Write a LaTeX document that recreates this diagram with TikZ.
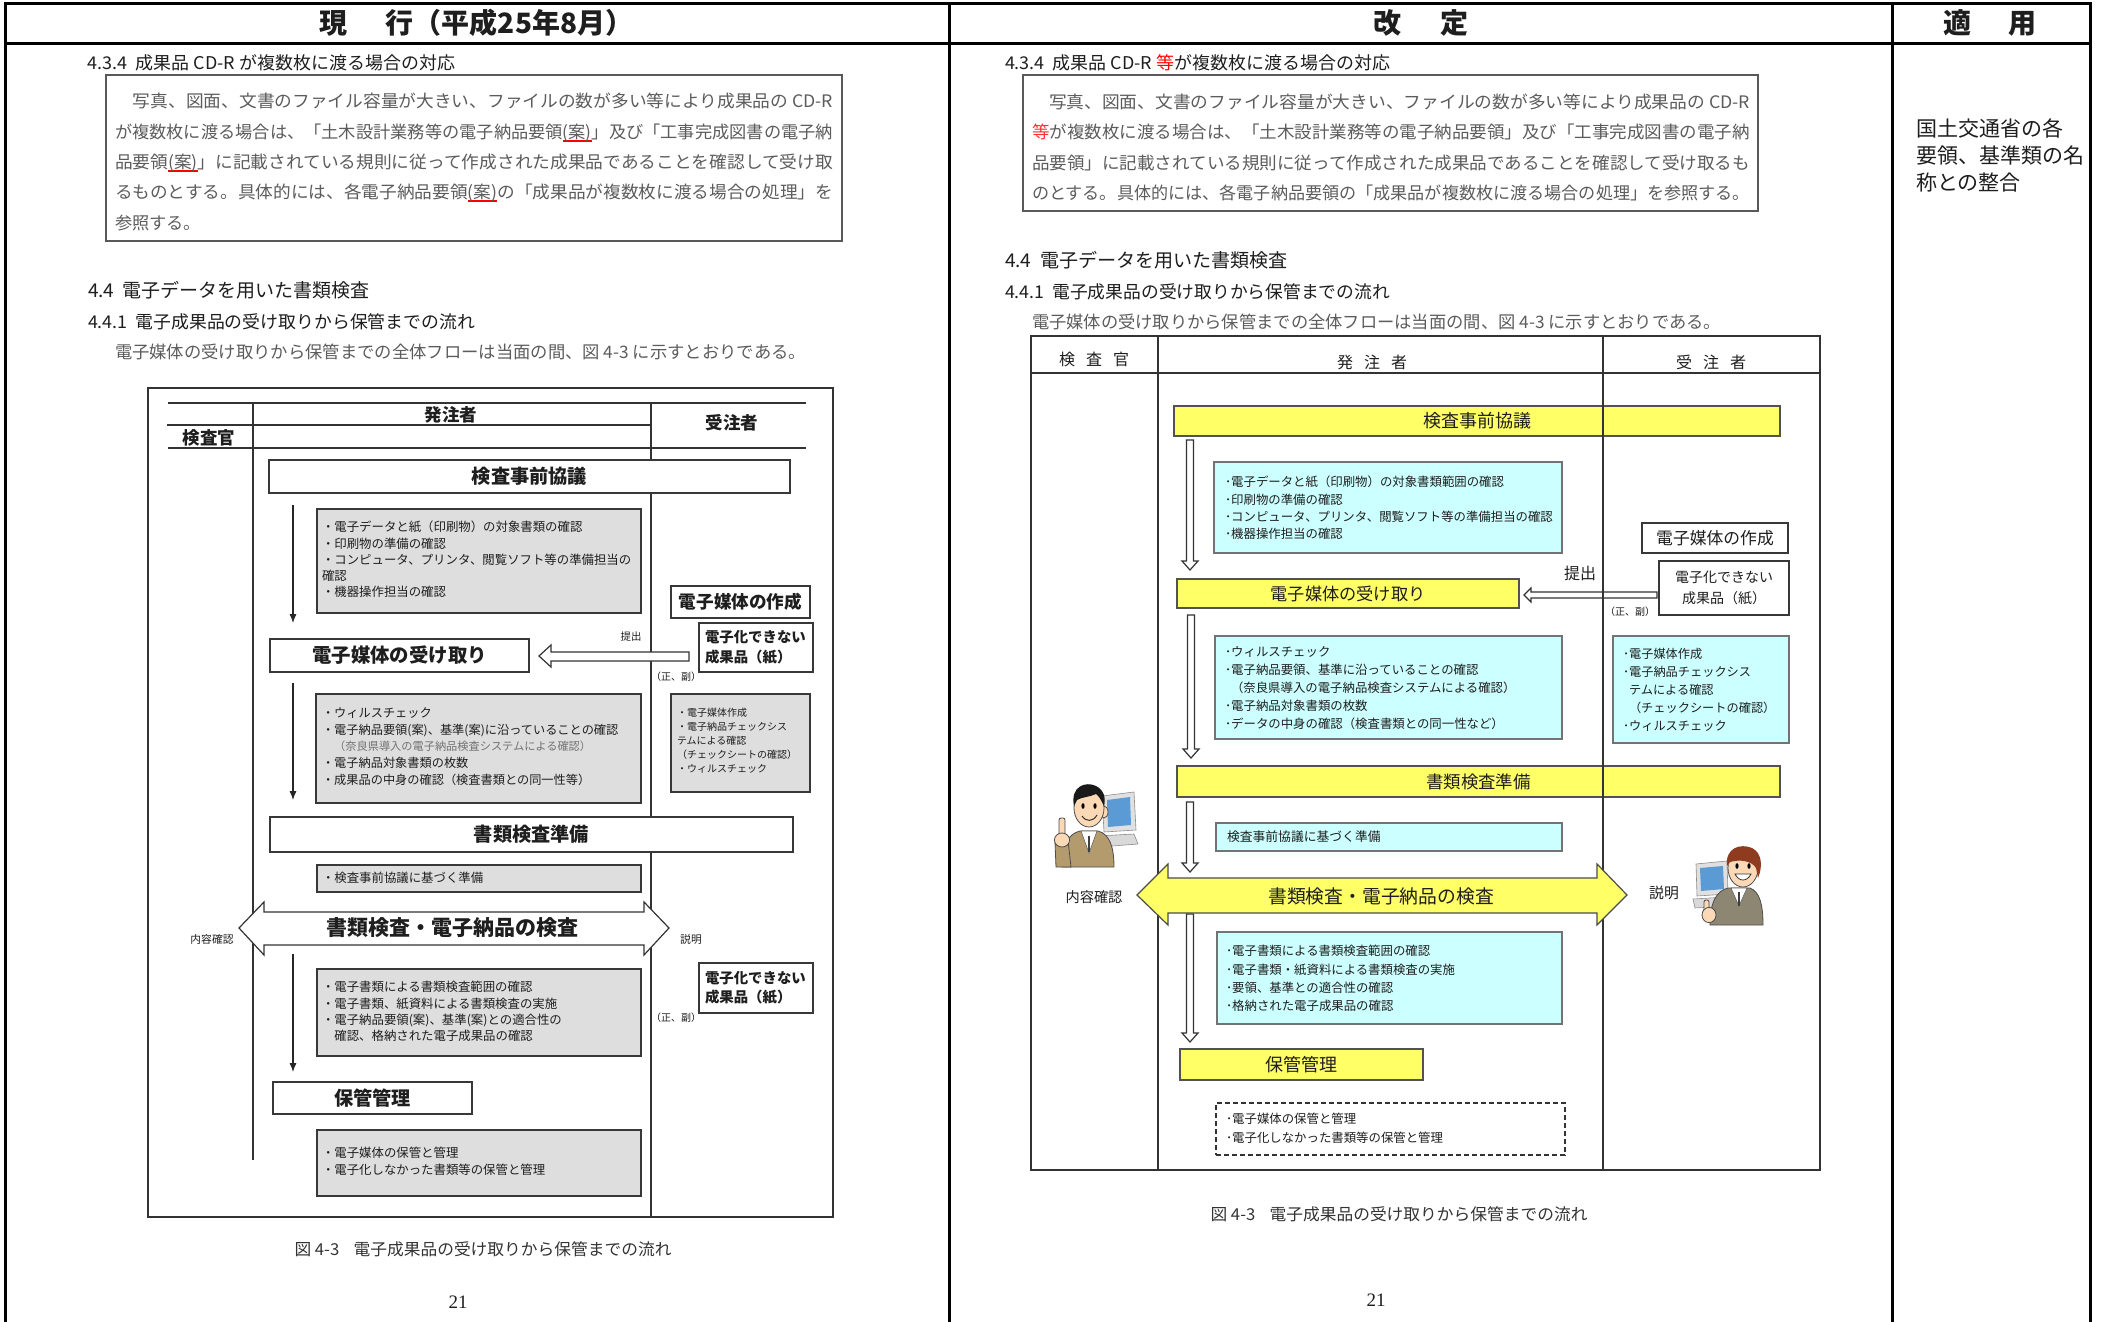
\documentclass[tikz,border=0pt]{standalone}
\usepackage{fontspec}
\usepackage{graphicx}
\setmainfont{Noto Sans CJK JP}
\newfontfamily\numfont{Liberation Serif}
\usetikzlibrary{arrows.meta,fit}

\definecolor{ink}{HTML}{1E1E1E}
\definecolor{paratext}{HTML}{5C5C5C}
\definecolor{fillyellow}{HTML}{FFFF66}
\definecolor{fillcyan}{HTML}{CCFFFF}
\definecolor{fillgray}{HTML}{DEDEDE}
\definecolor{skin}{HTML}{FBD8B6}
\definecolor{jacket}{HTML}{B39B6E}
\definecolor{suit}{HTML}{8C8672}
\definecolor{hairred}{HTML}{8E3B1F}
\definecolor{screen}{HTML}{5A9BD5}

% stretch a line horizontally to a given width (justified lines)
\newcommand\fitw[2]{\resizebox{#1}{\height}{#2}}
\newcommand\fsz[2]{\fontsize{#1}{#2}\selectfont}
% red underline used to flag revised wording
\newcommand\redmark[1]{\setbox0=\hbox{#1}\rlap{\textcolor{red}{\rule[-2.2pt]{\wd0}{1.3pt}}}\box0}

\tikzset{
  every node/.style={inner sep=0pt, outer sep=0pt, text=ink},
  tableline/.style={line width=1.5pt, black},
  lane/.style={draw=black!80, line width=0.6pt},
  parabox/.style={draw=black!65, line width=0.8pt},
  hd/.style={anchor=west, text=ink},
  para/.style={anchor=west, text=paratext, font=\fsz{8.6pt}{10pt}},
  wbox/.style={draw=black!78, line width=0.75pt, fill=white, inner sep=0pt},
  gbox/.style={draw=black!78, line width=0.75pt, fill=fillgray, inner sep=0pt},
  ybox/.style={draw=black!68, line width=0.75pt, fill=fillyellow, inner sep=0pt},
  cbox/.style={draw=black!55, line width=0.6pt, fill=fillcyan, inner sep=0pt},
  dbox/.style={draw=black!80, line width=0.6pt, dash pattern=on 2.5pt off 1.5pt, inner sep=0pt},
  blockarrow/.style={draw=black!80, line width=0.6pt, fill=white, line join=miter},
  flowarrow/.style={draw=black!85, line width=0.6pt, -{Latex[length=4.5pt,width=3.6pt]}},
  bullets/.style={anchor=west, align=left},
  person/.style={draw=black!70, line width=0.4pt},
}

% hollow downward block arrow: x, top y, tip y
\newcommand\hollowdown[3]{%
  \draw[blockarrow] (#1-3.5,#2) -- (#1+3.5,#2) -- (#1+3.5,#3-9) -- (#1+8,#3-9) -- (#1,#3)
    -- (#1-8,#3-9) -- (#1-3.5,#3-9) -- cycle;}

\begin{document}
\begin{tikzpicture}[x=0.5pt,y=-0.5pt]
\useasboundingbox (0,0) rectangle (2101,1322);
\fill[white] (0,0) rectangle (2101,1322);

% ===== comparison table frame =====
\draw[tableline] (5,1322) -- (5,4) -- (2090,4) -- (2090,1322);
\draw[tableline] (5,44) -- (2090,44);
\draw[tableline] (949,4) -- (949,1322);
\draw[tableline] (1892,4) -- (1892,1322);

\node[anchor=west, font=\fsz{14pt}{16pt}\bfseries] (hcur) at (319,23) {現\hspace{19.5pt}行（平成25年8月）};
\node[font=\fsz{14pt}{16pt}\bfseries] (hnew) at (1421,23) {改\hspace{20pt}定};
\node[font=\fsz{14pt}{16pt}\bfseries] (happ) at (1990,23) {適\hspace{18.5pt}用};

% ===== current text (left) =====
\node[hd, font=\fsz{8.8pt}{10pt}] (l434) at (88,63) {\fitw{183.5pt}{4.3.4\ \ 成果品 CD-R が複数枚に渡る場合の対応}};
\draw[parabox] (106,75) rectangle (842,241);
\node[para] (lp1) at (133,101) {\fitw{350pt}{写真、図面、文書のファイル容量が大きい、ファイルの数が多い等により成果品の CD-R}};
\node[para] (lp2) at (115,133) {\fitw{359pt}{が複数枚に渡る場合は、「土木設計業務等の電子納品要領\redmark{(案)}」及び「工事完成図書の電子納}};
\node[para] (lp3) at (115,163) {\fitw{359pt}{品要領\redmark{(案)}」に記載されている規則に従って作成された成果品であることを確認して受け取}};
\node[para] (lp4) at (115,193) {\fitw{359pt}{るものとする。具体的には、各電子納品要領\redmark{(案)}の「成果品が複数枚に渡る場合の処理」を}};
\node[para] (lp5) at (115,223) {参照する。};

\node[hd, font=\fsz{9.5pt}{11pt}] (l44) at (88,290) {\fitw{141pt}{4.4\ \ 電子データを用いた書類検査}};
\node[hd, font=\fsz{8.8pt}{10pt}] (l441) at (88,322) {\fitw{193.5pt}{4.4.1\ \ 電子成果品の受け取りから保管までの流れ}};
\node[para] (lintro) at (115,352) {\fitw{345.5pt}{電子媒体の受け取りから保管までの全体フローは当面の間、図 4-3 に示すとおりである。}};

% ----- current flow chart -----
\draw[lane] (148,388) rectangle (833,1217);
\draw[lane] (168,403) -- (806,403);
\draw[lane] (167,425) -- (651,425);
\draw[lane] (168,448) -- (806,448);
\draw[lane] (253,403) -- (253,1160);
\draw[lane] (651,403) -- (651,1217);
\node[font=\fsz{8.75pt}{10pt}\bfseries] (lh1) at (451,415) {発注者};
\node[font=\fsz{8.75pt}{10pt}\bfseries] (lh2) at (732,423) {受注者};
\node[font=\fsz{8.75pt}{10pt}\bfseries] (lh3) at (209,438) {検査官};

\node[wbox, fit={(269,460)(790,493)}] (lpre) {};
\node[font=\fsz{9.6pt}{11pt}\bfseries] (lpret) at (lpre.center) {検査事前協議};
\node[gbox, fit={(317,509)(641,613)}] (lg1) {};
\node[bullets, font=\fsz{6.2pt}{8.125pt}] (lg1t) at (322,559.5) {・電子データと紙（印刷物）の対象書類の確認\\・印刷物の準備の確認\\・コンピュータ、プリンタ、閲覧ソフト等の準備担当の\\確認\\・機器操作担当の確認};
\coordinate (la1s) at (293,505);
\coordinate (la1e) at (293,623);
\draw[flowarrow] (la1s) -- (la1e);

\node[wbox, fit={(671,586)(810,618)}] (lmake) {};
\node[font=\fsz{8.8pt}{10pt}\bfseries] (lmaket) at (lmake.center) {電子媒体の作成};
\node[wbox, fit={(699,623)(813,672)}] (lpap1) {};
\node[bullets, font=\fsz{7.2pt}{10pt}\bfseries] (lpap1t) at (705,647) {電子化できない\\成果品（紙）};

\node[wbox, fit={(270,639)(529,672)}] (lrecv) {};
\node[font=\fsz{9.7pt}{11pt}\bfseries] (lrecvt) at (lrecv.center) {電子媒体の受け取り};
\draw[blockarrow] (539,656) -- (551,645) -- (551,652) -- (689,652) -- (689,661) -- (551,661) -- (551,667) -- cycle;
\node[font=\fsz{5.2pt}{6pt}] (lsub) at (631,637) {提出};
\node[font=\fsz{5pt}{6pt}] (lcp1) at (676,677) {（正、副）};

\node[gbox, fit={(316,694)(641,803)}] (lg2) {};
\node[bullets, font=\fsz{6.1pt}{8.375pt}] (lg2t) at (322,746.5) {・ウィルスチェック\\・電子納品要領(案)、基準(案)に沿っていることの確認\\{\fsz{5.6pt}{8.375pt}\color{black!55}\hspace{6.1pt}（奈良県導入の電子納品検査システムによる確認）}\\・電子納品対象書類の枚数\\・成果品の中身の確認（検査書類との同一性等）};
\node[gbox, fit={(671,694)(810,792)}] (lg3) {};
\node[bullets, font=\fsz{5pt}{7pt}] (lg3t) at (677,741) {・電子媒体作成\\・電子納品チェックシス\\テムによる確認\\（チェックシートの確認）\\・ウィルスチェック};
\coordinate (la2s) at (293,683);
\coordinate (la2e) at (293,800);
\draw[flowarrow] (la2s) -- (la2e);

\node[wbox, fit={(270,817)(793,852)}] (lprep) {};
\node[font=\fsz{9.6pt}{11pt}\bfseries] (lprept) at (lprep.center) {書類検査準備};
\node[gbox, fit={(317,865)(641,892)}] (lg4) {};
\node[bullets, font=\fsz{6.2pt}{8pt}] (lg4t) at (322,878) {・検査事前協議に基づく準備};

\draw[blockarrow] (239,928) -- (264,902) -- (264,912) -- (644,912) -- (644,902) -- (669,928) -- (644,955) -- (644,945) -- (264,945) -- (264,955) -- cycle;
\node[font=\fsz{10.5pt}{12pt}\bfseries] (lchk) at (452,928) {書類検査・電子納品の検査};
\node[font=\fsz{5.4pt}{6pt}] (lconf) at (212,939) {内容確認};
\node[font=\fsz{5.4pt}{6pt}] (lexpl) at (691,939) {説明};

\coordinate (la3s) at (293,954);
\coordinate (la3e) at (293,1072);
\draw[flowarrow] (la3s) -- (la3e);
\node[gbox, fit={(317,969)(641,1056)}] (lg5) {};
\node[bullets, font=\fsz{6.2pt}{8.15pt}] (lg5t) at (322,1011.5) {・電子書類による書類検査範囲の確認\\・電子書類、紙資料による書類検査の実施\\・電子納品要領(案)、基準(案)との適合性の\\\hspace{6.2pt}確認、格納された電子成果品の確認};
\node[wbox, fit={(699,963)(813,1013)}] (lpap2) {};
\node[bullets, font=\fsz{7.2pt}{9.5pt}\bfseries] (lpap2t) at (705,987.5) {電子化できない\\成果品（紙）};
\node[font=\fsz{5pt}{6pt}] (lcp2) at (676,1018) {（正、副）};

\node[wbox, fit={(273,1082)(472,1114)}] (lkeep) {};
\node[font=\fsz{9.6pt}{11pt}\bfseries] (lkeept) at (lkeep.center) {保管管理};
\node[gbox, fit={(317,1130)(641,1196)}] (lg6) {};
\node[bullets, font=\fsz{6.2pt}{8.5pt}] (lg6t) at (322,1161.5) {・電子媒体の保管と管理\\・電子化しなかった書類等の保管と管理};

\node[font=\fsz{8.2pt}{10pt}, text=black!80] (lcap) at (483,1249) {\fitw{188.5pt}{図 4-3\hspace{7pt}電子成果品の受け取りから保管までの流れ}};
\node[font=\numfont\fsz{9.5pt}{10pt}] (lpage) at (458,1302) {21};

% ===== revised text (middle) =====
\node[hd, font=\fsz{8.8pt}{10pt}] (r434) at (1005,63) {\fitw{192.5pt}{4.3.4\ \ 成果品 CD-R \textcolor{red}{等}が複数枚に渡る場合の対応}};
\draw[parabox] (1023,75) rectangle (1758,211);
\node[para] (rp1) at (1049,102) {\fitw{350.5pt}{写真、図面、文書のファイル容量が大きい、ファイルの数が多い等により成果品の CD-R}};
\node[para] (rp2) at (1032,132) {\fitw{359pt}{\textcolor{red!80}{等}が複数枚に渡る場合は、「土木設計業務等の電子納品要領」及び「工事完成図書の電子納}};
\node[para] (rp3) at (1032,163) {\fitw{359pt}{品要領」に記載されている規則に従って作成された成果品であることを確認して受け取るも}};
\node[para] (rp4) at (1032,193) {\fitw{359pt}{のとする。具体的には、各電子納品要領の「成果品が複数枚に渡る場合の処理」を参照する。}};

\node[hd, font=\fsz{9.5pt}{11pt}] (r44) at (1005,260) {\fitw{141.5pt}{4.4\ \ 電子データを用いた書類検査}};
\node[hd, font=\fsz{8.8pt}{10pt}] (r441) at (1005,292) {\fitw{192.5pt}{4.4.1\ \ 電子成果品の受け取りから保管までの流れ}};
\node[para] (rintro) at (1032,322) {\fitw{344.5pt}{電子媒体の受け取りから保管までの全体フローは当面の間、図 4-3 に示すとおりである。}};

% ----- revised flow chart -----
\draw[lane] (1031,336) rectangle (1820,1170);
\draw[lane] (1031,373) -- (1820,373);
\node[font=\fsz{8pt}{10pt}] (rh1) at (1094,359) {検\hspace{5.5pt}査\hspace{5.5pt}官};
\node[font=\fsz{8pt}{10pt}] (rh2) at (1372,362) {発\hspace{5.5pt}注\hspace{5.5pt}者};
\node[font=\fsz{8pt}{10pt}] (rh3) at (1711,362) {受\hspace{5.5pt}注\hspace{5.5pt}者};

\hollowdown{1190}{440}{570}
\hollowdown{1191}{615}{758}
\hollowdown{1190}{802}{872}
\hollowdown{1190}{914}{1042}

\node[ybox, fit={(1174,406)(1780,436)}] (rpre) {};
\node[font=\fsz{9pt}{10pt}] (rpret) at (rpre.center) {検査事前協議};
\node[cbox, fit={(1214,462)(1562,553)}] (rc1) {};
\node[bullets, font=\fsz{6.2pt}{8.65pt}] (rc1t) at (1225,508) {･電子データと紙（印刷物）の対象書類範囲の確認\\･印刷物の準備の確認\\･コンピュータ、プリンタ、閲覧ソフト等の準備担当の確認\\･機器操作担当の確認};

\node[wbox, fit={(1642,523)(1788,553)}] (rmake) {};
\node[font=\fsz{8.4pt}{10pt}] (rmaket) at (rmake.center) {電子媒体の作成};
\node[wbox, fit={(1659,561)(1789,615)}] (rpap) {};
\node[align=center, font=\fsz{7pt}{10.5pt}] (rpapt) at (1724,587.5) {電子化できない\\成果品（紙）};

\draw[blockarrow] (1524,595) -- (1531,588) -- (1531,592) -- (1657,592) -- (1657,598) -- (1531,598) -- (1531,602) -- cycle;
\node[ybox, fit={(1177,579)(1519,608)}] (rrecv) {};
\node[font=\fsz{8.6pt}{10pt}] (rrecvt) at (rrecv.center) {電子媒体の受け取り};
\node[font=\fsz{8pt}{9pt}] (rsub) at (1580,573) {提出};
\node[font=\fsz{5pt}{6pt}] (rcp) at (1630,612) {（正、副）};

\node[cbox, fit={(1215,636)(1562,739)}] (rc2) {};
\node[bullets, font=\fsz{6.2pt}{9pt}] (rc2t) at (1225,688) {･ウィルスチェック\\･電子納品要領、基準に沿っていることの確認\\\hspace{3pt}（奈良県導入の電子納品検査システムによる確認）\\･電子納品対象書類の枚数\\･データの中身の確認（検査書類との同一性など）};
\node[cbox, fit={(1613,636)(1789,743)}] (rc3) {};
\node[bullets, font=\fsz{6.1pt}{9pt}] (rc3t) at (1623,690) {･電子媒体作成\\･電子納品チェックシス\\\hspace{3pt}テムによる確認\\\hspace{3pt}（チェックシートの確認）\\･ウィルスチェック};

\node[ybox, fit={(1177,766)(1780,797)}] (rprep) {};
\node[font=\fsz{8.7pt}{10pt}] (rprept) at (rprep.center) {書類検査準備};
\node[cbox, fit={(1216,823)(1562,851)}] (rc4) {};
\node[bullets, font=\fsz{6.4pt}{8pt}] (rc4t) at (1227,837) {検査事前協議に基づく準備};

\node[cbox, fit={(1217,932)(1562,1024)}] (rc5) {};
\node[bullets, font=\fsz{6.2pt}{9.15pt}] (rc5t) at (1226,978.5) {･電子書類による書類検査範囲の確認\\･電子書類・紙資料による書類検査の実施\\･要領、基準との適合性の確認\\･格納された電子成果品の確認};
\node[ybox, fit={(1180,1049)(1423,1080)}] (rkeep) {};
\node[font=\fsz{9pt}{10pt}] (rkeept) at (rkeep.center) {保管管理};
\node[dbox, fit={(1216,1103)(1565,1155)}] (rnote) {};
\node[bullets, font=\fsz{6.2pt}{9.5pt}] (rnotet) at (1226,1128.5) {･電子媒体の保管と管理\\･電子化しなかった書類等の保管と管理};

% lane dividers run over the wide bars
\draw[lane] (1158,336) -- (1158,1170);
\draw[lane] (1603,336) -- (1603,1170);

\draw[blockarrow, fill=fillyellow, draw=black!70] (1137,895) -- (1168,864) -- (1168,878) -- (1597,878) -- (1597,864) -- (1627,895) -- (1597,925) -- (1597,913) -- (1168,913) -- (1168,925) -- cycle;
\node[font=\fsz{9.4pt}{11pt}] (rchk) at (1381,896) {書類検査・電子納品の検査};
\node[font=\fsz{7.1pt}{8pt}] (rconf) at (1094,897) {内容確認};
\node[font=\fsz{7.4pt}{8pt}] (rexpl) at (1664,893) {説明};

% inspector at a computer, finger raised
\filldraw[draw=black!45, fill=black!12, line width=0.3pt] (1102,796) -- (1134,792) -- (1136,830) -- (1104,832) -- cycle;
\fill[screen] (1107,800) -- (1130,797) -- (1131,825) -- (1108,827) -- cycle;
\filldraw[draw=black!45, fill=black!15, line width=0.3pt] (1098,836) -- (1134,834) -- (1138,844) -- (1100,847) -- cycle;
\filldraw[person, fill=jacket] (1062,867) .. controls (1062,845) and (1068,834) .. (1080,831) -- (1098,831) .. controls (1110,834) and (1114,848) .. (1114,867) -- cycle;
\filldraw[person, fill=jacket] (1056,867) -- (1055,842) -- (1068,840) -- (1071,867) -- cycle;
\filldraw[draw=black!60, fill=white, line width=0.3pt] (1081,831) -- (1089,853) -- (1097,831) -- cycle;
\draw[black!75, line width=0.8pt] (1089,836) -- (1089,852);
\filldraw[person, fill=skin, rounded corners=1pt] (1059,818) rectangle (1065,836);
\filldraw[person, fill=skin] (1062,840) ellipse [x radius=3.8pt, y radius=3.5pt];
\filldraw[person, fill=skin] (1104,812) ellipse [x radius=2pt, y radius=3pt];
\filldraw[person, fill=skin] (1089,808) ellipse [x radius=7.5pt, y radius=9.5pt];
\fill[black!90] (1074,806) .. controls (1070,786) and (1086,781) .. (1096,786) .. controls (1104,790) and (1106,798) .. (1104,806) .. controls (1101,800) and (1099,796) .. (1096,794) .. controls (1090,797) and (1082,797) .. (1077,800) -- cycle;
\fill[black] (1083,806) ellipse [x radius=0.8pt, y radius=1.4pt];
\fill[black] (1095,806) ellipse [x radius=0.8pt, y radius=1.4pt];
\draw[black!80, line width=0.5pt] (1082,816) .. controls (1086,822) and (1093,822) .. (1097,815);

% contractor at a computer, thumb up
\filldraw[draw=black!45, fill=black!12, line width=0.3pt] (1696,864) -- (1727,861) -- (1728,894) -- (1697,896) -- cycle;
\fill[screen] (1700,868) -- (1723,866) -- (1724,889) -- (1701,891) -- cycle;
\filldraw[draw=black!45, fill=black!15, line width=0.3pt] (1693,899) -- (1727,897) -- (1730,906) -- (1695,908) -- cycle;
\filldraw[person, fill=suit] (1710,925) .. controls (1710,903) and (1716,891) .. (1728,888) -- (1750,888) .. controls (1760,892) and (1763,905) .. (1763,925) -- cycle;
\filldraw[draw=black!60, fill=white, line width=0.3pt] (1731,888) -- (1739,906) -- (1747,888) -- cycle;
\draw[black!75, line width=0.8pt] (1739,892) -- (1739,906);
\filldraw[person, fill=skin, rounded corners=1pt] (1704,900) rectangle (1709,912);
\filldraw[person, fill=skin] (1709,915) ellipse [x radius=3.5pt, y radius=3.8pt];
\filldraw[person, fill=skin] (1743,868) ellipse [x radius=7.5pt, y radius=9.5pt];
\fill[hairred] (1727,866) .. controls (1725,848) and (1740,843) .. (1752,848) .. controls (1762,853) and (1763,866) .. (1758,878) -- (1756,868) .. controls (1752,861) and (1740,859) .. (1730,862) -- cycle;
\fill[black] (1737,866) ellipse [x radius=0.8pt, y radius=1.4pt];
\fill[black] (1749,866) ellipse [x radius=0.8pt, y radius=1.4pt];
\filldraw[draw=black!80, fill=white, line width=0.4pt] (1735,874) .. controls (1739,882) and (1747,882) .. (1751,874) -- cycle;

\node[font=\fsz{8.2pt}{10pt}, text=black!80] (rcap) at (1399,1214) {\fitw{188.5pt}{図 4-3\hspace{7pt}電子成果品の受け取りから保管までの流れ}};
\node[font=\numfont\fsz{9.5pt}{10pt}] (rpage) at (1376,1300) {21};

% ===== applicability note (right) =====
\node[bullets, font=\fsz{10.5pt}{13.5pt}] (note) at (1916,155) {国土交通省の各\\要領、基準類の名\\称との整合};

\end{tikzpicture}
\end{document}
